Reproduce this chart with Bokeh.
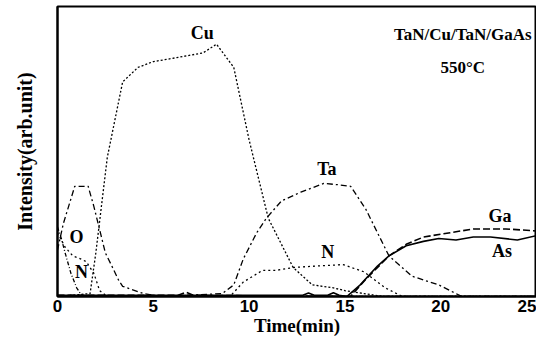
from bokeh.plotting import figure
from bokeh.models import Range1d, FixedTicker
from bokeh.core.properties import value
from bokeh.embed import file_html
from bokeh.resources import INLINE

# ---- data (time in min, intensity in arb. units) ----
cu_t = [0, 1.7, 2.0, 2.6, 3.4, 4.2, 5.0, 5.9, 7.6, 8.3, 9.2, 10.0, 11.0, 12.3, 13.3, 14.4, 15.0, 16.0, 17.0, 25]
cu_y = [0.0, 0.01, 0.15, 0.48, 0.74, 0.79, 0.81, 0.82, 0.84, 0.87, 0.79, 0.54, 0.27, 0.10, 0.04, 0.03, 0.02, 0.01, 0.0, 0.0]

ta_t = [0, 0.3, 0.9, 1.6, 1.9, 2.2, 2.5, 2.8, 3.2, 3.4, 4.5, 5.4, 8.6, 9.2, 9.7, 10.4, 10.9, 11.7,
        12.7, 13.9, 14.7, 15.3, 16.1, 17.3, 18.5, 19.9, 21.1, 25]
ta_y = [0.16, 0.25, 0.38, 0.38, 0.31, 0.23, 0.15, 0.11, 0.055, 0.035, 0.01, 0.0, 0.01, 0.04, 0.13, 0.22,
        0.27, 0.33, 0.36, 0.39, 0.385, 0.38, 0.30, 0.14, 0.07, 0.04, 0.0, 0.0]

n_t = [0, 0.4, 0.8, 1.2, 1.5, 1.9, 2.2, 2.6, 9.0, 9.7, 10.7, 11.4, 12.3, 13.5, 14.9, 16.0, 17.1, 18.0, 25]
n_y = [0.22, 0.17, 0.14, 0.13, 0.12, 0.08, 0.02, 0.0, 0.0, 0.05, 0.09, 0.09, 0.10, 0.105, 0.11, 0.085, 0.03, 0.0, 0.0]

o_t = [0, 0.2, 0.4, 0.7, 1.0, 1.3, 25]
o_y = [0.24, 0.20, 0.15, 0.08, 0.03, 0.0, 0.0]

ga_t = [0, 6.3, 6.7, 7.1, 15.3, 16.1, 17.3, 18.2, 19.1, 20.5, 21.7, 23.4, 25]
ga_y = [0.004, 0.004, 0.015, 0.004, 0.0, 0.06, 0.14, 0.18, 0.205, 0.22, 0.233, 0.233, 0.226]

as_t = [0, 12.8, 13.1, 13.4, 14.1, 14.4, 14.7, 15.1, 15.8, 16.7, 17.3, 18.2, 19.1, 19.9, 20.8, 21.7, 22.6, 24.0, 25]
as_y = [0.004, 0.004, 0.012, 0.004, 0.004, 0.013, 0.004, 0.0, 0.04, 0.105, 0.14, 0.175, 0.19, 0.2, 0.195, 0.205, 0.205, 0.195, 0.21]

x_ticks = [0, 5, 10, 15, 20, 25]

# curve labels
lab_text = ["Cu", "Ta", "N", "Ga", "As", "O", "N"]
lab_x = [7.55, 14.06, 14.1, 23.1, 23.2, 0.99, 1.25]
lab_y = [0.91, 0.44, 0.155, 0.276, 0.158, 0.206, 0.086]

title_lines = ["TaN/Cu/TaN/GaAs", "550°C"]
title_x = [21.15, 21.15]
title_y = [0.905, 0.79]

serif = value("Liberation Serif")

p = figure(width=536, height=340, output_backend="svg", toolbar_location=None,
           x_range=Range1d(0, 25), y_range=Range1d(0, 1),
           min_border_left=57, min_border_right=0, min_border_top=6, min_border_bottom=44)
p.grid.visible = False
p.outline_line_color = "black"
p.outline_line_width = 2
p.background_fill_color = "white"
p.border_fill_color = "white"

p.line(cu_t, cu_y, line_color="black", line_width=1.3, line_dash="2 2")
p.line(ta_t, ta_y, line_color="black", line_width=1.3, line_dash="6 3 2 3")
p.line(n_t, n_y, line_color="black", line_width=1.3, line_dash="2 3")
p.line(o_t, o_y, line_color="black", line_width=1.3, line_dash="4 2 1 2")
p.line(ga_t, ga_y, line_color="black", line_width=1.6, line_dash="7 3")
p.line(as_t, as_y, line_color="black", line_width=1.6)

p.text(lab_x, lab_y, text=lab_text, text_font=serif, text_font_style="bold",
       text_font_size="18px", text_align="center", text_baseline="middle", text_color="black")
p.text(title_x, title_y, text=title_lines, text_font=serif, text_font_style="bold",
       text_font_size="17px", text_align="center", text_baseline="middle", text_color="black")

xa = p.xaxis[0]
xa.ticker = FixedTicker(ticks=x_ticks)
xa.axis_line_color = "black"
xa.axis_line_width = 2
xa.major_tick_in = 0
xa.major_tick_out = 0
xa.minor_tick_line_color = None
xa.major_label_text_font = "Liberation Sans"
xa.major_label_text_font_style = "bold"
xa.major_label_text_font_size = "17px"
xa.major_label_text_color = "black"
xa.major_label_standoff = 3
xa.axis_label = "Time(min)"
xa.axis_label_text_font = "Liberation Serif"
xa.axis_label_text_font_style = "bold"
xa.axis_label_text_font_size = "19px"
xa.axis_label_text_color = "black"
xa.axis_label_standoff = 0

ya = p.yaxis[0]
ya.ticker = FixedTicker(ticks=[])
ya.axis_line_color = "black"
ya.axis_line_width = 2
ya.major_tick_line_color = None
ya.minor_tick_line_color = None
ya.axis_label = "Intensity(arb.unit)"
ya.axis_label_text_font = "Liberation Serif"
ya.axis_label_text_font_style = "bold"
ya.axis_label_text_font_size = "20px"
ya.axis_label_text_color = "black"
ya.axis_label_standoff = 22

open("out.html", "w").write(file_html(p, INLINE))
